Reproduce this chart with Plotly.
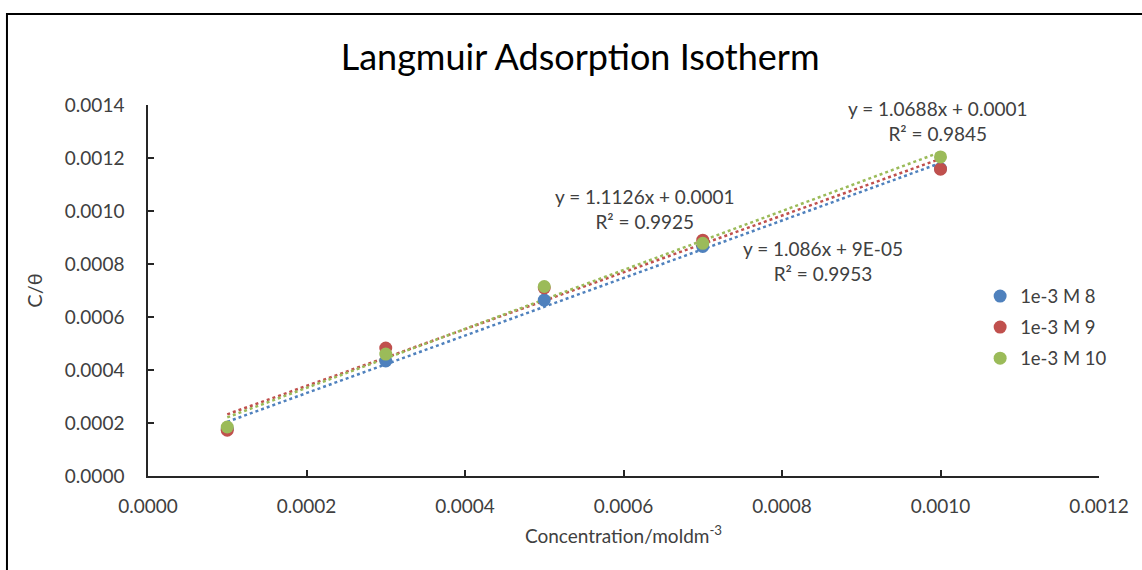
import numpy as np
import plotly.graph_objects as go

concentration = [0.0001, 0.0003, 0.0005, 0.0007, 0.0010]
series_names = ["1e-3 M 8", "1e-3 M 9", "1e-3 M 10"]
series_8 = [0.000177, 0.000434, 0.000664, 0.000866, 0.001160]
series_9 = [0.000173, 0.000483, 0.000710, 0.000890, 0.001158]
series_10 = [0.000185, 0.000460, 0.000715, 0.000878, 0.001204]
colors = ["#4F81BD", "#C0504D", "#9BBB59"]

eq_texts = [
    ("y = 1.0688x + 0.0001", "R² = 0.9845", 0.000996, 0.00134),
    ("y = 1.1126x + 0.0001", "R² = 0.9925", 0.000626, 0.001009),
    ("y = 1.086x + 9E-05", "R² = 0.9953", 0.000852, 0.000811),
]

x_ticks = [0.0000, 0.0002, 0.0004, 0.0006, 0.0008, 0.0010, 0.0012]
y_ticks = [0.0000, 0.0002, 0.0004, 0.0006, 0.0008, 0.0010, 0.0012, 0.0014]

FONT = "Lato, Carlito, Calibri, sans-serif"
fig = go.Figure()

all_series = [series_8, series_9, series_10]
# trendlines
for vals, col in zip(all_series, colors):
    m, b = np.polyfit(concentration, vals, 1)
    xs = [min(concentration), max(concentration)]
    ys = [m * v + b for v in xs]
    fig.add_trace(go.Scatter(x=xs, y=ys, mode="lines",
                             line=dict(color=col, width=2.5, dash="dot"),
                             showlegend=False, hoverinfo="skip"))

for vals, col, name in zip(all_series, colors, series_names):
    fig.add_trace(go.Scatter(x=concentration, y=vals, mode="markers", name=name,
                             legendgroup=name,
                             marker=dict(color=col, size=13)))

for l1, l2, xa, ya in eq_texts:
    fig.add_annotation(x=xa, y=ya, text=l1 + "<br>" + l2, showarrow=False,
                       font=dict(family=FONT, size=19, color="#404040"),
                       align="center")

fig.add_shape(type="rect", xref="paper", yref="paper",
              x0=-0.1483, x1=1.2, y0=-0.4, y1=1.2453,
              line=dict(color="black", width=2), fillcolor="rgba(0,0,0,0)")

axis_common = dict(showgrid=False, zeroline=False, showline=True,
                   linecolor="#262626", linewidth=1.5, ticks="inside",
                   ticklen=6, tickcolor="#262626", tickwidth=1.5,
                   tickfont=dict(family=FONT, size=19, color="#404040"))

fig.update_layout(
    width=1142, height=570,
    margin=dict(l=148, r=43, t=105, b=94),
    paper_bgcolor="white", plot_bgcolor="white",
    title=dict(text="Langmuir Adsorption Isotherm", x=0.508, xanchor="center",
               y=0.9, yanchor="middle",
               font=dict(family=FONT, size=36, color="#000000")),
    xaxis=dict(range=[0, 0.0012], tickvals=x_ticks,
               ticktext=[f"{v:.4f}" for v in x_ticks],
               ticklabelstandoff=12,
               title=dict(text="Concentration/moldm<sup>-3</sup>",
                          font=dict(family=FONT, size=19, color="#404040"),
                          standoff=14),
               **axis_common),
    yaxis=dict(range=[0, 0.0014], tickvals=y_ticks,
               ticktext=[f"{v:.4f}" for v in y_ticks],
               ticklabelstandoff=18,
               title=dict(text="C/θ", font=dict(family=FONT, size=20, color="#404040"),
                          standoff=17),
               **axis_common),
    legend=dict(x=0.875, y=0.535, xanchor="left", yanchor="top",
                font=dict(family=FONT, size=18.5, color="#404040"),
                tracegroupgap=4, traceorder="grouped",
                bgcolor="rgba(0,0,0,0)", itemwidth=30),
    showlegend=True,
)

fig.write_html("out.html")
